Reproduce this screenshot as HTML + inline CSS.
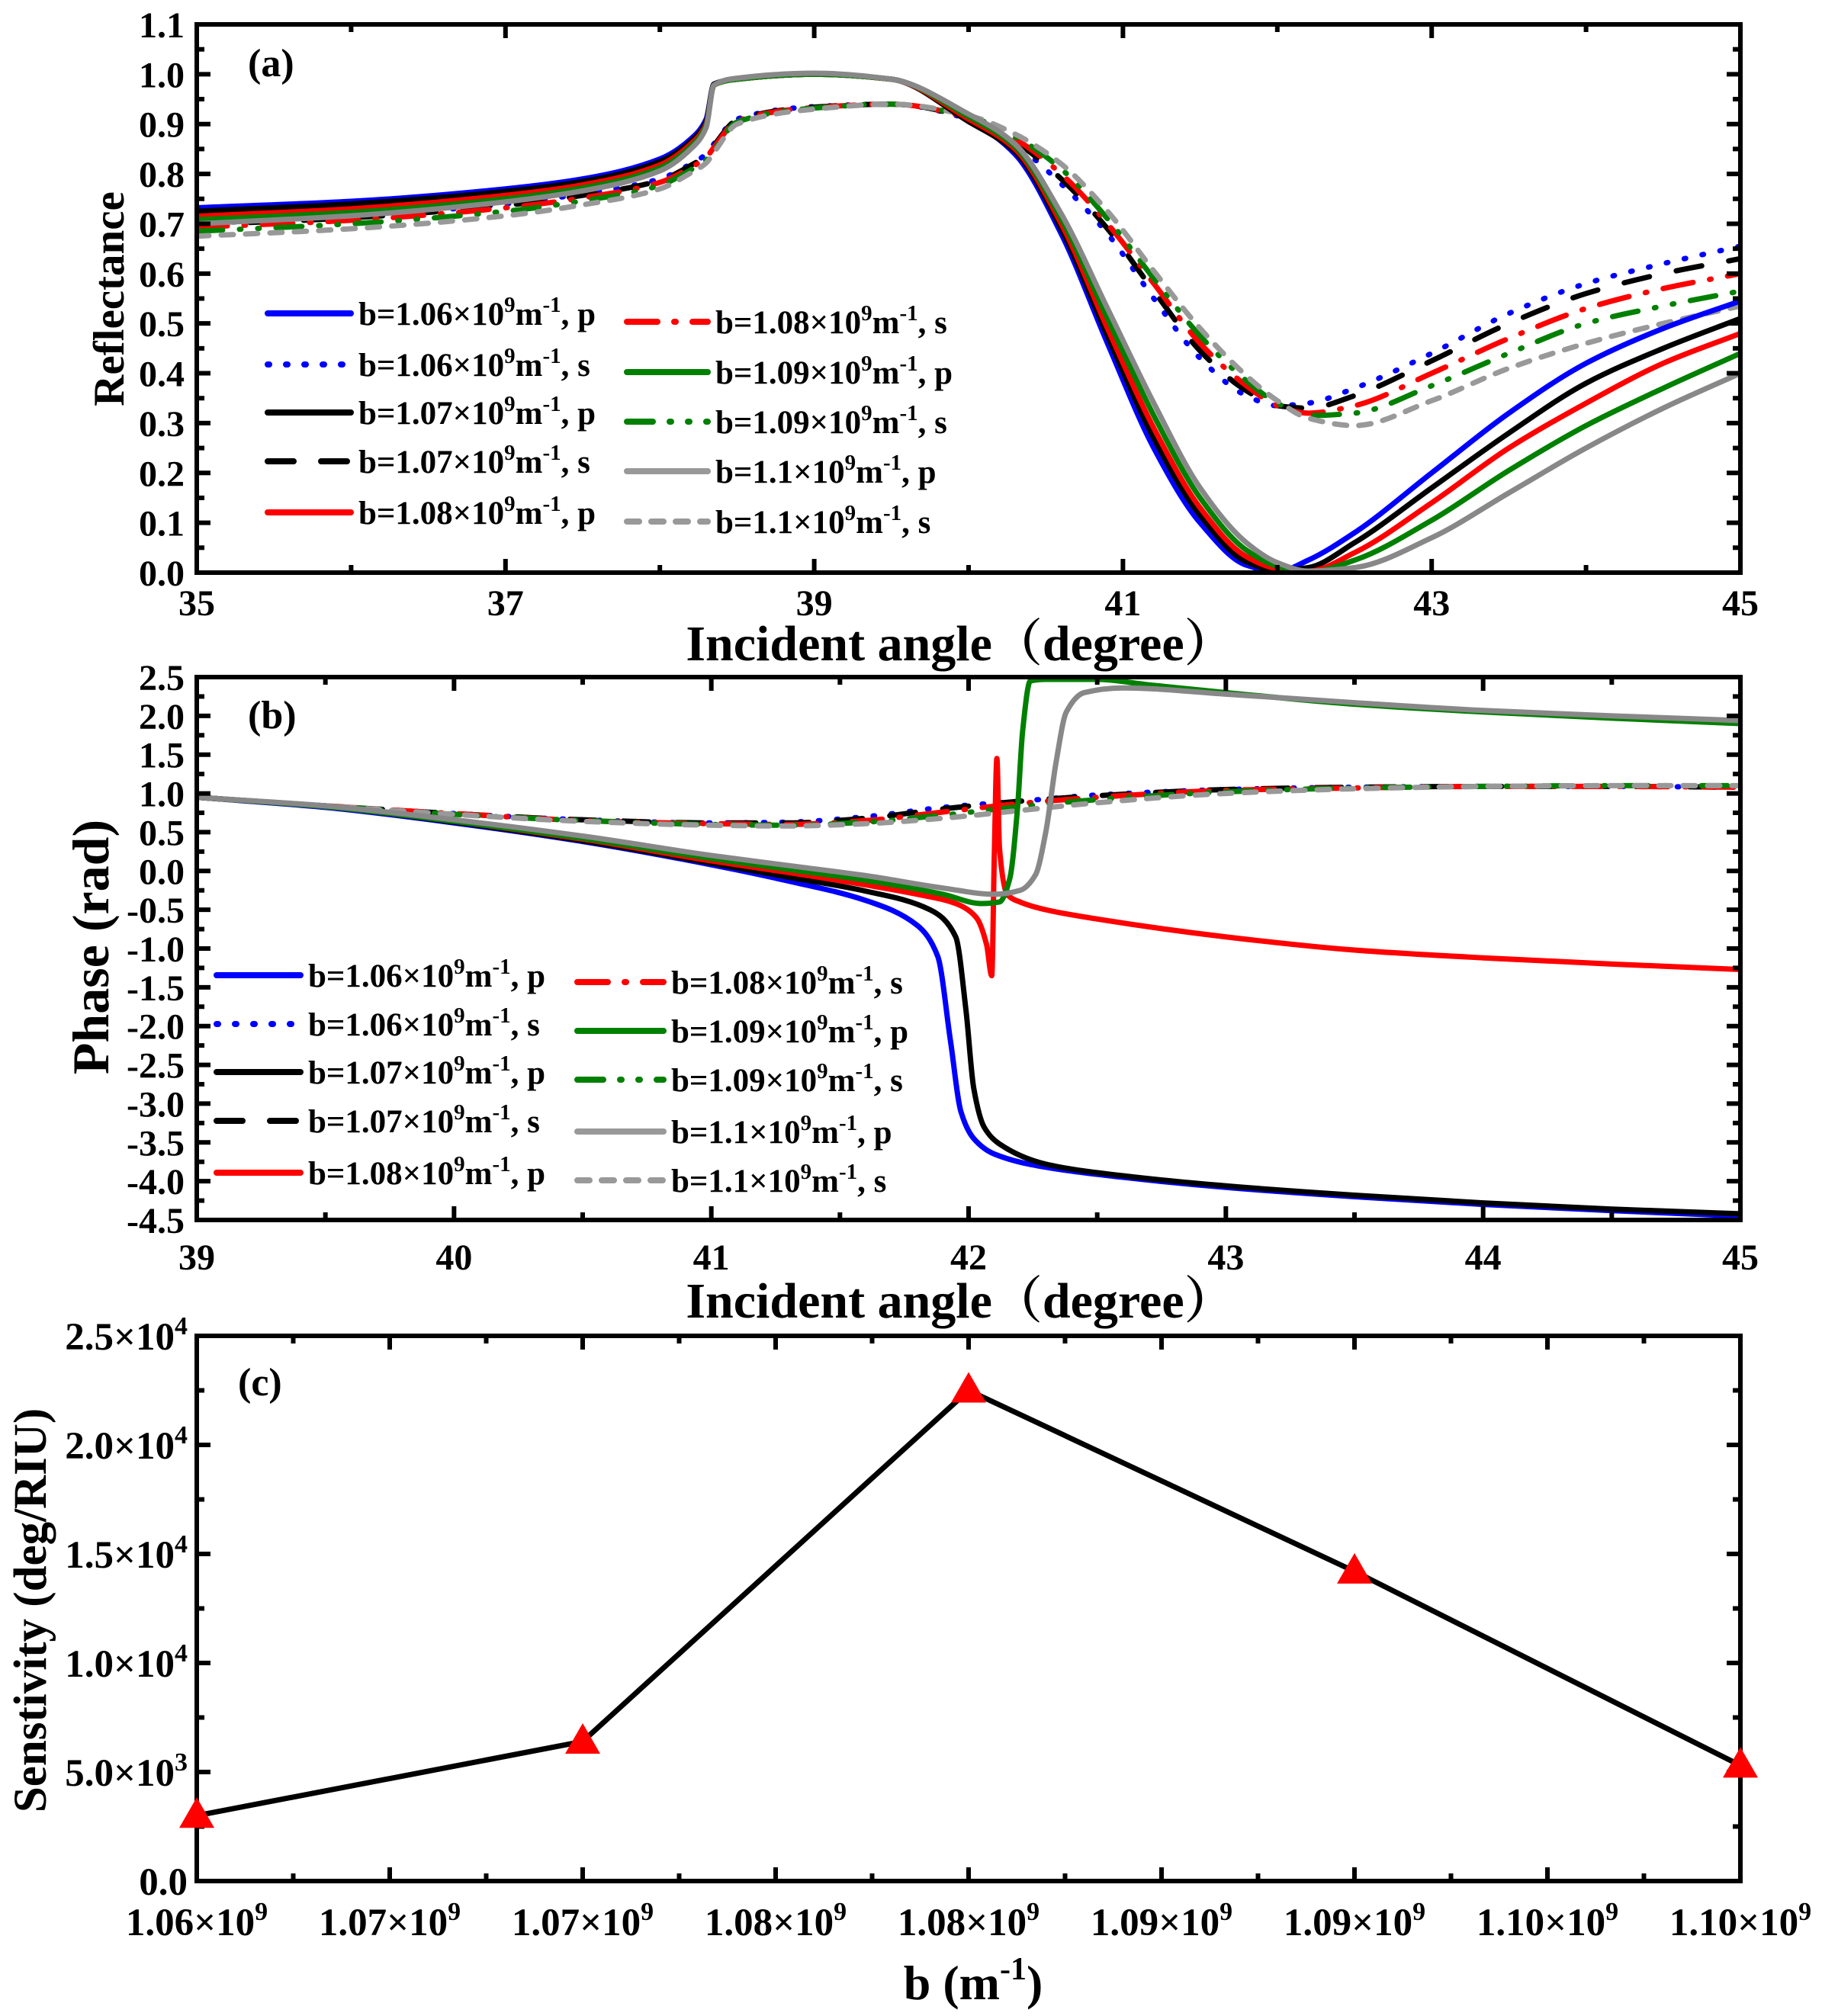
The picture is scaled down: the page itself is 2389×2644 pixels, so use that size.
<!DOCTYPE html>
<html><head><meta charset="utf-8"><style>
html,body{margin:0;padding:0;background:#fff;}
svg{display:block;font-family:"Liberation Serif","Times New Roman",serif;font-weight:bold;}
</style></head><body>
<svg id="fig" width="2389" height="2644" viewBox="0 0 2389 2644" xmlns="http://www.w3.org/2000/svg">
<defs>
<clipPath id="clipA"><rect x="258" y="32" width="2024" height="719"/></clipPath>
<clipPath id="clipB"><rect x="258" y="888" width="2024" height="712"/></clipPath>
<clipPath id="clipC"><rect x="200" y="1700" width="2150" height="820"/></clipPath>
</defs>
<g id="layer"></g>
</svg>
<script>
// ---------- Panel (a) data ----------
const aX = [35,36,37,37.5,38,38.2,38.3,38.35,38.5,39,39.5,40,40.3,40.6,40.9,41.2,41.5,41.8,42.0,42.2,42.5,43,43.5,44,44.5,45];
const aBlueP  = [0.732,0.745,0.77,0.79,0.83,0.87,0.91,0.98,0.99,1.0,0.99,0.91,0.84,0.68,0.46,0.25,0.10,0.015,0.002,0.025,0.08,0.20,0.32,0.42,0.49,0.545];
const aBlackP = [0.725,0.74,0.765,0.785,0.825,0.865,0.905,0.98,0.99,1.0,0.99,0.905,0.845,0.69,0.475,0.27,0.115,0.022,0.004,0.01,0.06,0.17,0.28,0.38,0.45,0.51];
const aRedP   = [0.715,0.73,0.757,0.778,0.818,0.86,0.9,0.978,0.99,1.0,0.99,0.91,0.85,0.70,0.49,0.29,0.13,0.032,0.008,0.003,0.04,0.14,0.25,0.34,0.42,0.48];
const aGreenP = [0.708,0.723,0.75,0.772,0.812,0.855,0.897,0.978,0.99,1.0,0.99,0.915,0.855,0.71,0.51,0.315,0.15,0.045,0.013,0.001,0.025,0.105,0.205,0.295,0.37,0.44];
const aGrayP  = [0.70,0.716,0.744,0.766,0.806,0.85,0.893,0.978,0.992,1.002,0.99,0.92,0.86,0.72,0.53,0.34,0.17,0.06,0.02,0.003,0.01,0.07,0.16,0.25,0.33,0.40];
const aBlueS  = [0.70,0.715,0.74,0.76,0.79,0.82,0.84,0.86,0.91,0.935,0.94,0.91,0.86,0.78,0.68,0.55,0.43,0.355,0.335,0.34,0.37,0.44,0.52,0.58,0.62,0.655];
const aBlackS = [0.698,0.712,0.737,0.757,0.787,0.817,0.837,0.857,0.908,0.934,0.94,0.912,0.865,0.79,0.69,0.565,0.445,0.365,0.335,0.33,0.355,0.425,0.50,0.56,0.60,0.63];
const aRedS   = [0.693,0.707,0.732,0.752,0.783,0.813,0.833,0.853,0.906,0.933,0.94,0.913,0.87,0.80,0.70,0.58,0.46,0.375,0.335,0.32,0.335,0.40,0.47,0.53,0.57,0.60];
const aGreenS = [0.685,0.70,0.725,0.746,0.777,0.808,0.828,0.848,0.904,0.932,0.94,0.915,0.875,0.81,0.71,0.59,0.475,0.385,0.34,0.315,0.32,0.375,0.44,0.50,0.535,0.565];
const aGrayS  = [0.675,0.69,0.716,0.738,0.77,0.802,0.822,0.843,0.9,0.93,0.94,0.917,0.88,0.82,0.725,0.605,0.49,0.395,0.345,0.31,0.295,0.345,0.41,0.46,0.50,0.535];
const aXTicks = [35,37,39,41,43,45];
const aYTicks = ["0.0","0.1","0.2","0.3","0.4","0.5","0.6","0.7","0.8","0.9","1.0","1.1"];

// ---------- Panel (b) data ----------
const bBlueX  = [39,39.5,40,40.5,41,41.3,41.6,41.8,41.88,41.93,41.97,42.02,42.1,42.3,42.6,43,43.5,44,44.5,45];
const bBlueP  = [0.95,0.82,0.62,0.38,0.08,-0.13,-0.38,-0.7,-1.1,-2.2,-3.1,-3.45,-3.65,-3.82,-3.95,-4.08,-4.2,-4.3,-4.38,-4.45];
const bBlackX = [39,39.5,40,40.5,41,41.3,41.6,41.85,41.95,41.99,42.02,42.06,42.12,42.3,42.6,43,43.5,44,44.5,45];
const bBlackP = [0.95,0.83,0.63,0.39,0.1,-0.08,-0.26,-0.5,-0.85,-1.8,-2.8,-3.3,-3.52,-3.78,-3.93,-4.06,-4.18,-4.28,-4.36,-4.42];
const bRedX   = [39,39.5,40,40.5,41,41.3,41.6,41.8,41.95,42.03,42.07,42.09,42.1,42.11,42.12,42.15,42.2,42.3,42.5,43,43.5,44,44.5,45];
const bRedP   = [0.95,0.83,0.64,0.41,0.13,-0.02,-0.18,-0.3,-0.42,-0.6,-0.95,-1.35,0.2,1.45,0.3,-0.3,-0.4,-0.5,-0.62,-0.85,-1.02,-1.12,-1.2,-1.27];
const bGreenX = [39,39.5,40,40.5,41,41.3,41.6,41.9,42.05,42.12,42.16,42.19,42.21,42.24,42.3,42.5,42.7,43,43.5,44,44.5,45];
const bGreenP = [0.95,0.83,0.64,0.42,0.16,0.02,-0.12,-0.3,-0.42,-0.4,-0.1,0.8,1.8,2.45,2.47,2.47,2.4,2.3,2.15,2.05,1.97,1.9];
const bGrayX  = [39,39.5,40,40.5,41,41.3,41.6,41.9,42.1,42.2,42.26,42.3,42.34,42.38,42.45,42.6,43,43.5,44,44.5,45];
const bGrayP  = [0.95,0.84,0.66,0.45,0.2,0.07,-0.06,-0.22,-0.3,-0.25,-0.05,0.5,1.4,2.05,2.3,2.36,2.28,2.17,2.07,2.0,1.94];
const bSX     = [39,39.5,40,40.5,41,41.3,41.6,41.9,42.2,42.5,43,43.5,44,44.5,45];
const bBlueS  = [0.95,0.84,0.74,0.66,0.62,0.63,0.7,0.82,0.9,0.98,1.05,1.08,1.09,1.09,1.08];
const bBlackS = [0.95,0.84,0.74,0.66,0.62,0.62,0.68,0.8,0.9,0.97,1.05,1.08,1.09,1.09,1.08];
const bRedS   = [0.95,0.84,0.74,0.65,0.61,0.6,0.65,0.76,0.87,0.95,1.04,1.07,1.09,1.09,1.08];
const bGreenS = [0.95,0.84,0.73,0.65,0.6,0.59,0.63,0.72,0.83,0.92,1.02,1.07,1.09,1.1,1.1];
const bGrayS  = [0.95,0.84,0.73,0.64,0.59,0.58,0.61,0.68,0.78,0.88,1.0,1.06,1.09,1.1,1.1];
const bXTicks = [39,40,41,42,43,44,45];
const bYTicks = ["2.5","2.0","1.5","1.0","0.5","0.0","-0.5","-1.0","-1.5","-2.0","-2.5","-3.0","-3.5","-4.0","-4.5"];

// ---------- Panel (c) data ----------
const cX = [1.06,1.07,1.08,1.09,1.10];
const cSens = [3000,6400,22500,14200,5300];
const cXTickLabels = ["1.06","1.07","1.07","1.08","1.08","1.09","1.09","1.10","1.10"];
const cYTickMant = ["0.0","5.0","1.0","1.5","2.0","2.5"];
const cYTickExp  = ["","3","4","4","4","4"];

const NS = "http://www.w3.org/2000/svg";
const layer = document.getElementById("layer");
function mk(tag, attrs, parent){
  const e = document.createElementNS(NS, tag);
  for (const k in attrs) e.setAttribute(k, attrs[k]);
  (parent||layer).appendChild(e);
  return e;
}
function monoPath(px, py){
  const n = px.length;
  if (n < 2) return "";
  const d=[], m=new Array(n);
  for (let i=0;i<n-1;i++) d.push((py[i+1]-py[i])/(px[i+1]-px[i]));
  m[0]=d[0]; m[n-1]=d[n-2];
  for (let i=1;i<n-1;i++){
    if (d[i-1]*d[i] <= 0) m[i]=0;
    else { const w1=2*(px[i+1]-px[i])+(px[i]-px[i-1]), w2=(px[i+1]-px[i])+2*(px[i]-px[i-1]); m[i]=(w1+w2)/(w1/d[i-1]+w2/d[i]); }
  }
  let s = "M"+px[0].toFixed(2)+","+py[0].toFixed(2);
  for (let i=0;i<n-1;i++){
    const h = px[i+1]-px[i];
    s += " C"+(px[i]+h/3).toFixed(2)+","+(py[i]+m[i]*h/3).toFixed(2)+" "+(px[i+1]-h/3).toFixed(2)+","+(py[i+1]-m[i+1]*h/3).toFixed(2)+" "+px[i+1].toFixed(2)+","+py[i+1].toFixed(2);
  }
  return s;
}

const L=258, R=2282;
const styles = { blueS:"2,22", blackS:"34,36", redS:"40,22,2,22", greenS:"34,22,2,22,2,22", grayS:"16,16" };

const axA = {x:v=>L+(v-35)/10*(R-L), y:v=>751-(v/1.1)*719};
const axB = {x:v=>L+(v-39)/6*(R-L), y:v=>888+(2.5-v)/7*712};
const axC = {x:v=>L+(v-1.06)/0.04*(R-L), y:v=>2467-(v/25000)*715};

function series(ax, xs, ys, color, dash, clip, name){
  const px = xs.map(ax.x), py = ys.map(ax.y);
  const p = mk("path", {d:monoPath(px,py), fill:"none", stroke:color, "stroke-width":7, "stroke-linejoin":"round", "stroke-linecap":dash?"round":"butt", "clip-path":"url(#"+clip+")"});
  if (dash) p.setAttribute("stroke-dasharray", dash);
  
  
}
function frame(top, bottom, name){
  const r = mk("rect", {x:L, y:top, width:R-L, height:bottom-top, fill:"none", stroke:"#000", "stroke-width":6});
  
  
}
function xtick(x, top, bottom, major){
  const len = major?18:10;
  mk("line",{x1:x,y1:bottom,x2:x,y2:bottom-len,stroke:"#000","stroke-width":6});
  mk("line",{x1:x,y1:top,x2:x,y2:top+len,stroke:"#000","stroke-width":6});
}
function ytick(y, major){
  const len = major?18:10;
  mk("line",{x1:L,y1:y,x2:L+len,y2:y,stroke:"#000","stroke-width":6});
  mk("line",{x1:R,y1:y,x2:R-len,y2:y,stroke:"#000","stroke-width":6});
}
function label(x,y,txt,size,anchor,name){
  const t = mk("text",{x:x,y:y,"font-size":size,"text-anchor":anchor||"middle",fill:"#000"});
  t.textContent = txt;
  
  
  return t;
}
function legendText(x,y,val,pol,name){
  const t = mk("text",{x:x,y:y,"font-size":43,fill:"#000"});
  
  
  const a = mk("tspan",{},t); a.textContent = "b="+val+"×10";
  const b = mk("tspan",{"font-size":29,dy:-17},t); b.textContent = "9";
  const c = mk("tspan",{dy:17},t); c.textContent = "m";
  const d = mk("tspan",{"font-size":29,dy:-17},t); d.textContent = "-1";
  const e = mk("tspan",{dy:17},t); e.textContent = ", "+pol;
}
function legendEntry(x1,x2,y,color,dash,val,pol,name){
  const l = mk("line",{x1:x1,y1:y,x2:x2,y2:y,stroke:color,"stroke-width":8,"stroke-linecap":"round"});
  if (dash) l.setAttribute("stroke-dasharray", dash);
  
  
  legendText(x2+10, y+15, val, pol, name+'-label');
}
const cjk = '"Liberation Serif","Noto Serif CJK SC",serif';

// ================= Panel A =================
series(axA,aX,aBlueS,"#0000ff",styles.blueS,"clipA","a-blue-s");
series(axA,aX,aBlackS,"#000000",styles.blackS,"clipA","a-black-s");
series(axA,aX,aRedS,"#ff0000",styles.redS,"clipA","a-red-s");
series(axA,aX,aGreenS,"#008000",styles.greenS,"clipA","a-green-s");
series(axA,aX,aGrayS,"#999999",styles.grayS,"clipA","a-gray-s");
series(axA,aX,aBlueP,"#0000ff",null,"clipA","a-blue-p");
series(axA,aX,aBlackP,"#000000",null,"clipA","a-black-p");
series(axA,aX,aRedP,"#ff0000",null,"clipA","a-red-p");
series(axA,aX,aGreenP,"#008000",null,"clipA","a-green-p");
series(axA,aX,aGrayP,"#888888",null,"clipA","a-gray-p");
frame(32,751,"panel-a-frame");
for (let v=35; v<=45; v++) xtick(axA.x(v),32,751,(v-35)%2===0);
aXTicks.forEach(v=>label(axA.x(v),807,String(v),48,"middle","a-x-tick-label"));
for (let i=0;i<=22;i++) ytick(axA.y(i*0.05), i%2===0);
aYTicks.forEach((s,i)=>label(242,axA.y(i*0.1)+17,s,48,"end","a-y-tick-label"));
label(1259,866,"Incident angle（degree）",66,"middle","a-x-axis-title").setAttribute("font-family",cjk);
(function(){const t=label(0,0,"Reflectance",57,"middle","a-y-axis-title");t.setAttribute("transform","translate(162,392) rotate(-90)");})();
label(325,100,"(a)",52,"start","panel-a-label");
const legA = [
 [351,460,411,"#0000ff",null,"1.06","p"],[351,460,478,"#0000ff",styles.blueS,"1.06","s"],
 [351,460,541,"#000000",null,"1.07","p"],[351,460,605,"#000000",styles.blackS,"1.07","s"],
 [351,460,672,"#ff0000",null,"1.08","p"],
 [822,928,422,"#ff0000",styles.redS,"1.08","s"],[822,928,488,"#008000",null,"1.09","p"],
 [822,928,553,"#008000",styles.greenS,"1.09","s"],[822,928,618,"#999999",null,"1.1","p"],
 [822,928,684,"#999999",styles.grayS,"1.1","s"]];
legA.forEach((e,i)=>legendEntry(e[0],e[1],e[2],e[3],e[4],e[5],e[6],"a-legend-entry-"+i));

// ================= Panel B =================
series(axB,bSX,bBlueS,"#0000ff",styles.blueS,"clipB","b-blue-s");
series(axB,bSX,bBlackS,"#000000",styles.blackS,"clipB","b-black-s");
series(axB,bSX,bRedS,"#ff0000",styles.redS,"clipB","b-red-s");
series(axB,bSX,bGreenS,"#008000",styles.greenS,"clipB","b-green-s");
series(axB,bSX,bGrayS,"#999999",styles.grayS,"clipB","b-gray-s");
series(axB,bBlueX,bBlueP,"#0000ff",null,"clipB","b-blue-p");
series(axB,bBlackX,bBlackP,"#000000",null,"clipB","b-black-p");
series(axB,bRedX,bRedP,"#ff0000",null,"clipB","b-red-p");
series(axB,bGreenX,bGreenP,"#008000",null,"clipB","b-green-p");
series(axB,bGrayX,bGrayP,"#888888",null,"clipB","b-gray-p");
frame(888,1600,"panel-b-frame");
for (let i=0;i<=12;i++) xtick(axB.x(39+i*0.5),888,1600,i%2===0);
bXTicks.forEach(v=>label(axB.x(v),1665,String(v),48,"middle","b-x-tick-label"));
for (let i=0;i<=28;i++) ytick(axB.y(2.5-i*0.25), i%2===0);
bYTicks.forEach((s,i)=>label(242,axB.y(2.5-i*0.5)+17,s,48,"end","b-y-tick-label"));
label(1259,1728,"Incident angle（degree）",66,"middle","b-x-axis-title").setAttribute("font-family",cjk);
(function(){const t=label(0,0,"Phase (rad)",68,"middle","b-y-axis-title");t.setAttribute("transform","translate(142,1242) rotate(-90)");})();
label(325,955,"(b)",52,"start","panel-b-label");
const legB = [
 [284,394,1279,"#0000ff",null,"1.06","p"],[284,394,1343,"#0000ff",styles.blueS,"1.06","s"],
 [284,394,1406,"#000000",null,"1.07","p"],[284,394,1470,"#000000",styles.blackS,"1.07","s"],
 [284,394,1538,"#ff0000",null,"1.08","p"],
 [757,870,1288,"#ff0000",styles.redS,"1.08","s"],[757,870,1352,"#008000",null,"1.09","p"],
 [757,870,1416,"#008000",styles.greenS,"1.09","s"],[757,870,1484,"#999999",null,"1.1","p"],
 [757,870,1548,"#999999",styles.grayS,"1.1","s"]];
legB.forEach((e,i)=>legendEntry(e[0],e[1],e[2],e[3],e[4],e[5],e[6],"b-legend-entry-"+i));

// ================= Panel C =================
frame(1752,2467,"panel-c-frame");
for (let i=0;i<=16;i++) xtick(axC.x(1.06+i*0.0025),1752,2467,i%2===0);
cXTickLabels.forEach((s,i)=>{
  const x = axC.x(1.06+i*0.005);
  const t = mk("text",{x:x,y:2538,"font-size":51,"text-anchor":"middle",fill:"#000"});
  
  
  const a=mk("tspan",{},t); a.textContent=s+"×10";
  const b=mk("tspan",{"font-size":34,dy:-20},t); b.textContent="9";
});
for (let i=0;i<=10;i++) ytick(axC.y(i*2500), i%2===0);
cYTickMant.forEach((s,i)=>{
  const y = axC.y(i*5000)+18;
  const t = mk("text",{x:246,y:y,"font-size":51,"text-anchor":"end",fill:"#000"});
  
  
  if (cYTickExp[i]===""){ t.textContent=s; }
  else {
    const a=mk("tspan",{},t); a.textContent=s+"×10";
    const b=mk("tspan",{"font-size":34,dy:-20},t); b.textContent=cYTickExp[i];
  }
});
const cLine = mk("polyline",{points:cX.map((v,i)=>axC.x(v)+","+axC.y(cSens[i])).join(" "),fill:"none",stroke:"#000","stroke-width":7,"stroke-linejoin":"round","clip-path":"url(#clipC)"});


cX.forEach((v,i)=>{
  const x=axC.x(v), y=axC.y(cSens[i]);
  const tri = mk("polygon",{points:(x)+","+(y-24)+" "+(x-23)+","+(y+16)+" "+(x+23)+","+(y+16),fill:"#ff0000","clip-path":"url(#clipC)"});
  
  
});
(function(){
  const t = mk("text",{x:1276,y:2622,"font-size":64,"text-anchor":"middle",fill:"#000"});
  
  
  const a=mk("tspan",{},t); a.textContent="b (m";
  const b=mk("tspan",{"font-size":42,dy:-26},t); b.textContent="-1";
  const c=mk("tspan",{dy:26},t); c.textContent=")";
})();
(function(){const t=label(0,0,"Senstivity (deg/RIU)",61,"middle","c-y-axis-title");t.setAttribute("transform","translate(60,2112) rotate(-90)");})();
label(312,1830,"(c)",52,"start","panel-c-label");
</script>
</body></html>
